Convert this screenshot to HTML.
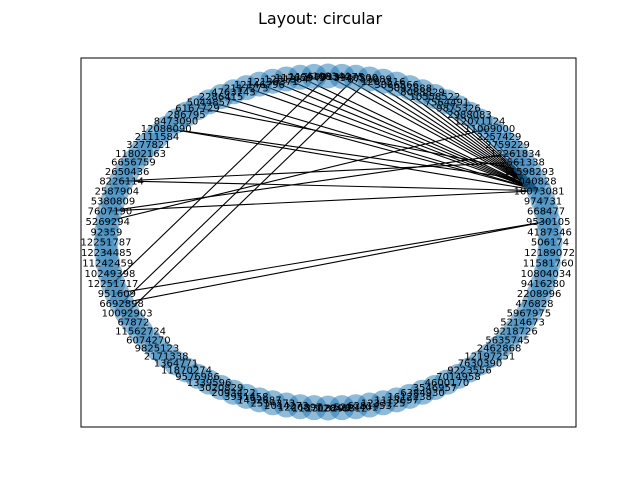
<!DOCTYPE html>
<html><head><meta charset="utf-8"><style>
body{margin:0;background:#fff}
svg text{font-family:"DejaVu Sans","Liberation Sans",sans-serif}
</style></head><body>
<svg id="chart" width="640" height="480" viewBox="0 0 640 480" xmlns="http://www.w3.org/2000/svg">
<rect width="640" height="480" fill="#fff"/>
<text x="320" y="24" text-anchor="middle" font-size="16" fill="#000">Layout: circular</text>
<rect x="81" y="58" width="495" height="369" fill="none" stroke="#000" stroke-width="1"/>
<g id="edges"></g><g id="nodes"></g><g id="labels"></g>
</svg>
<script>
const nodeLabels = ["506174","4187346","9530105","668477","974731","10073081","6040828","11598293","2561338","12261834","2759229","2257429","11009000","12071124","2988083","9875326","7564491","10558522","8088829","5097888","3066566","1283516","8751089","3340500","9934275","4108344","11769013","11765045","1281364","12136371","12146796","2117273","4763743","2286415","5044857","6167729","286795","8473090","12088090","2111584","3277821","11802163","6656759","2650436","8226114","2587904","5380809","7607190","5269294","92359","12251787","12234485","11242459","10249398","12251717","951609","6692898","10092903","67872","11562724","6074270","9825123","2171338","1364771","11870274","9576986","1339596","3020829","2093422","3951458","1492687","2514273","2014273","1226897","1137028","1318296","12048812","5229401","6281453","1233125","1113697","1612238","6384930","3546957","4600170","7014958","9223556","7630390","12197251","2462868","5635745","9218726","5214673","5967975","476828","2208996","9416280","10804034","11581760","12189072"];
const edgeSources = [5,5,5,5,5,5,5,5,5,5,5,5,5,5,5,5,5,5,5,5,5,6,2,2,54,56,57,47,48,44,7];
const edgeTargets = [14,16,17,18,19,20,21,22,23,24,25,27,28,29,30,31,33,34,38,44,47,38,55,56,25,23,22,9,12,8,35];
const cx=328, cy=242, rx=222, ry=166;
const n = nodeLabels.length;
function px(i){return cx+rx*Math.cos(2*Math.PI*i/n);}
function py(i){return cy-ry*Math.sin(2*Math.PI*i/n);}
const NS="http://www.w3.org/2000/svg";
const eg=document.getElementById('edges'), ng=document.getElementById('nodes'), lg=document.getElementById('labels');
for(let k=0;k<edgeSources.length;k++){
  const l=document.createElementNS(NS,'line');
  l.setAttribute('x1',px(edgeSources[k]));l.setAttribute('y1',py(edgeSources[k]));
  l.setAttribute('x2',px(edgeTargets[k]));l.setAttribute('y2',py(edgeTargets[k]));
  l.setAttribute('stroke','#000');l.setAttribute('stroke-width','1.1');
  
  
  eg.appendChild(l);
}
for(let i=0;i<n;i++){
  const c=document.createElementNS(NS,'circle');
  c.setAttribute('cx',px(i));c.setAttribute('cy',py(i));c.setAttribute('r','12.5');
  c.setAttribute('fill','#1f77b4');c.setAttribute('fill-opacity','0.5');
  
  
  ng.appendChild(c);
  const t=document.createElementNS(NS,'text');
  t.setAttribute('x',px(i));t.setAttribute('y',py(i)+3.7);
  t.setAttribute('text-anchor','middle');t.setAttribute('font-size','10');
  t.setAttribute('fill','#000');
  t.textContent=nodeLabels[i];
  
  
  lg.appendChild(t);
}
</script>
</body></html>
